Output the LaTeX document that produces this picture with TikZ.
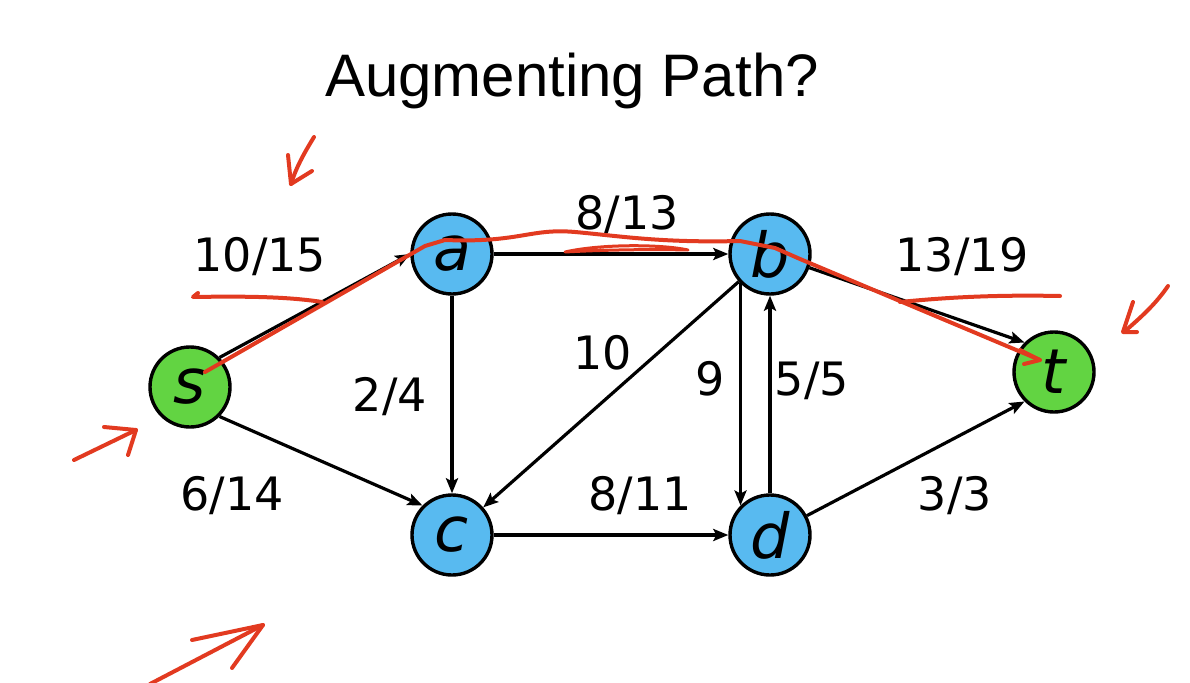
\documentclass[tikz,border=0pt]{standalone}
\usepackage{fontspec}
\setmainfont{DejaVu Sans}
\newfontfamily\titlefont{Liberation Sans}
\usetikzlibrary{arrows.meta}
\definecolor{nodeblue}{RGB}{88,186,240}
\definecolor{nodegreen}{RGB}{98,212,66}
\definecolor{pen}{RGB}{226,58,32}
\tikzset{
  vertex/.style={circle, draw, line width=3.4pt, minimum size=80pt, inner sep=0pt,
    font=\fontsize{62}{62}\selectfont\itshape},
  flow/.style={-{Stealth[length=15pt,width=12pt,inset=3pt]}, line width=3.2pt},
  flowlabel/.style={anchor=base, font=\fontsize{46}{46}\selectfont},
  redink/.style={pen, line width=4pt, line cap=round, line join=round}
}
\begin{document}
\begin{tikzpicture}[x=1pt,y=-1pt]
  \useasboundingbox (0,0) rectangle (1190,682);

  % Title
  \node[anchor=base, font=\titlefont\fontsize{60}{60}\selectfont] (title) at (572,97) {Augmenting Path?};

  % Vertices
  \foreach \n/\x/\y/\c in {s/190/387/nodegreen, a/452/254/nodeblue, b/770/254/nodeblue,
                           c/452/535/nodeblue, d/770/535/nodeblue, t/1054/372/nodegreen}
    \node[vertex, fill=\c] (\n) at (\x,\y) {\n};

  % Edges
  \draw[flow] (s.north east) -- (a.west);
  \draw[flow] (s.south east) -- (c.north west);
  \draw[flow] (b.225) -- (d.135);
  \foreach \u/\v in {a/b, a/c, b/c, c/d, d/b, b/t.north west, d/t.south west}
    \draw[flow] (\u) -- (\v);

  % Capacities
  \foreach \n/\x/\y/\txt in {sa/260/271/{10/15}, ab/627/229/{8/13}, bt/962/271/{13/19},
                             ac/390/411/{2/4}, bc/603/369/{10}, bd/710/395/{9},
                             db/812/395/{5/5}, sc/232/510/{6/14}, cd/640/510/{8/11},
                             dt/955/510/{3/3}}
    \node[flowlabel] (l-\n) at (\x,\y) {\txt};

  % Red pen: the path s-a-b-t
  \draw[redink] (205,372) -- (425,246) -- (445,240)
    .. controls (520,243) and (530,228) .. (575,232)
    .. controls (620,236) and (660,243) .. (740,241)
    -- (775,248) -- (800,259) -- (1040,360);
  \draw[redink] (1020,350) -- (1040,360) -- (1024,364);
  \draw[redink, line width=3pt] (565,252) .. controls (600,244) and (660,244) .. (688,250)
    .. controls (650,249) and (600,250) .. (565,252);

  % Red pen: strikes under 10/15 and 13/19
  \draw[redink] (198,293) -- (193,297) .. controls (250,296) and (290,297) .. (322,302);
  \draw[redink] (900,302) .. controls (960,296) and (1010,295) .. (1060,296);

  % Red pen: arrows
  \draw[redink] (314,137) .. controls (303,155) and (296,168) .. (291,184);
  \draw[redink] (288,155) -- (291,184) -- (312,171);
  \draw[redink] (1168,286) .. controls (1155,305) and (1140,318) .. (1124,332);
  \draw[redink] (1133,302) -- (1123,332) -- (1137,332);
  \draw[redink] (74,460) -- (136,430);
  \draw[redink] (104,427) -- (136,430) -- (128,455);
  \draw[redink] (150,684) -- (263,625);
  \draw[redink] (192,640) -- (263,625) -- (232,668);
\end{tikzpicture}
\end{document}
